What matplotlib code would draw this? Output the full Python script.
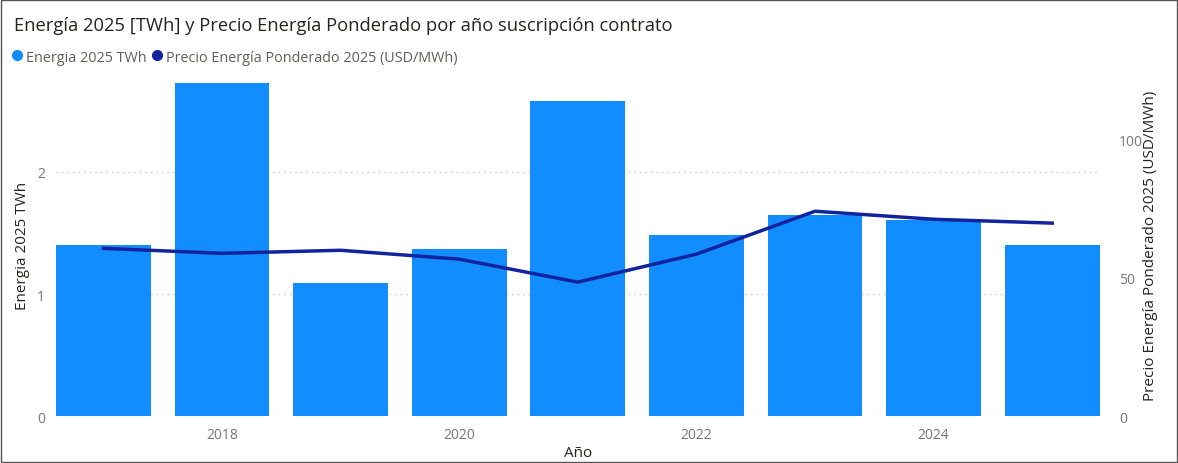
import numpy as np
import matplotlib.pyplot as plt
import matplotlib.patches as patches
from matplotlib.lines import Line2D

# data
years = [2017, 2018, 2019, 2020, 2021, 2022, 2023, 2024, 2025]
energia_twh = [1.40, 2.73, 1.09, 1.37, 2.58, 1.48, 1.65, 1.61, 1.40]
precio_usd_mwh = [60.6, 58.8, 59.9, 56.7, 48.4, 58.5, 74.0, 71.1, 69.7]
xtick_years = [2018, 2020, 2022, 2024]

bar_color = '#118DFF'
line_color = '#12239E'
tick_color = '#777777'
label_color = '#252423'

plt.rcParams['font.family'] = ['Open Sans', 'DejaVu Sans']

fig = plt.figure(figsize=(11.78, 4.64), dpi=100)
ax = fig.add_axes([0.0475, 0.101, 0.886, 0.737])

ax.bar(years, energia_twh, width=0.8, color=bar_color, zorder=2)
ax.set_xlim(2016.6, 2025.4)
ax.set_ylim(0, 2.80)
ax.set_yticks([0, 1, 2])
ax.set_xticks(xtick_years)
ax.grid(axis='y', linestyle=(0, (1, 3)), color='#c8c8c8', linewidth=1, zorder=0)
for s in ax.spines.values():
    s.set_visible(False)
ax.tick_params(length=0, colors=tick_color, labelsize=10, pad=8)
ax.set_xlabel('Año', color=label_color, fontsize=11, labelpad=2)
ax.set_ylabel('Energia 2025 TWh', color=label_color, fontsize=11, labelpad=5)

ax2 = ax.twinx()
ax2.plot(years, precio_usd_mwh, color=line_color, linewidth=2.5, zorder=3)
ax2.set_ylim(0, 123.5)
ax2.set_yticks([0, 50, 100])
for s in ax2.spines.values():
    s.set_visible(False)
ax2.tick_params(length=0, colors=tick_color, labelsize=10, pad=14)
ax2.set_ylabel('Precio Energía Ponderado 2025 (USD/MWh)', color=label_color,
               fontsize=11, labelpad=0)

fig.text(0.012, 0.945, 'Energía 2025 [TWh] y Precio Energía Ponderado por año suscripción contrato',
         fontsize=13.2, color=label_color, va='center', ha='left')

handles = [Line2D([], [], marker='o', linestyle='none', color=bar_color, markersize=7),
           Line2D([], [], marker='o', linestyle='none', color=line_color, markersize=7)]
fig.legend(handles, ['Energia 2025 TWh', 'Precio Energía Ponderado 2025 (USD/MWh)'],
           loc='center left', bbox_to_anchor=(0.008, 0.875), ncol=2, frameon=False,
           fontsize=10.4, labelcolor='#605E5C', handlelength=0.7, handletextpad=0.25,
           columnspacing=0.4, borderpad=0.2, borderaxespad=0.0)

# thin frame around the visual
fig.patches.append(patches.Rectangle((0.001, 0.002), 0.998, 0.996, transform=fig.transFigure,
                                     fill=False, edgecolor='#555555', linewidth=1))

fig.savefig('out.png', dpi=100)
